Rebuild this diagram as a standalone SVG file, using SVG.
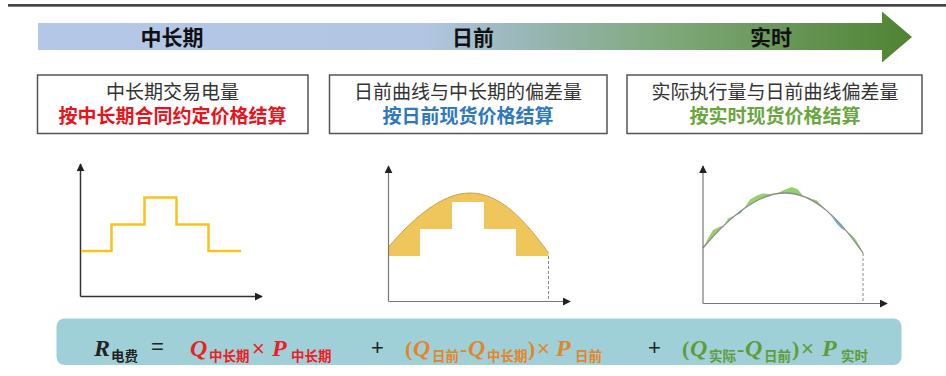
<svg xmlns="http://www.w3.org/2000/svg" width="946" height="376" viewBox="0 0 946 376">
<defs>
<linearGradient id="arrowGrad" x1="38" y1="0" x2="913" y2="0" gradientUnits="userSpaceOnUse">
<stop offset="0" stop-color="#b4c7e7"/>
<stop offset="0.44" stop-color="#b2c6e3"/>
<stop offset="0.55" stop-color="#9ab7b9"/>
<stop offset="0.72" stop-color="#7fa87a"/>
<stop offset="1" stop-color="#4f8332"/>
</linearGradient>
<marker id="ax" viewBox="0 0 10 10" refX="9" refY="5" markerWidth="8" markerHeight="8" markerUnits="userSpaceOnUse" orient="auto">
<path d="M0,0 L10,5 L0,10 Z" fill="#222"/>
</marker>
<clipPath id="above"><path d="M703,248 C725,222 755,193 785,193 C815,193 840,220 863,253 L863,150 L703,150 Z"/></clipPath>
<clipPath id="below"><path d="M703,248 C725,222 755,193 785,193 C815,193 840,220 863,253 L863,320 L703,320 Z"/></clipPath>
<style>
.cjk{font-family:"Noto Sans CJK SC","Noto Sans",sans-serif}
.stage{font-size:21px;font-weight:bold;fill:#111;text-anchor:middle}
.box{fill:#fff;stroke:#555;stroke-width:1.5}
.l1{font-size:19px;fill:#333;text-anchor:middle}
.l2{font-size:19px;font-weight:bold;text-anchor:middle}
.axis{stroke:#333;stroke-width:1.5;fill:none}
.axis2{stroke:#777;stroke-width:1.2;fill:none}
.dash{stroke:#888;stroke-width:1;stroke-dasharray:3,2;fill:none}
.var{font-family:"Liberation Serif","Times New Roman",serif;font-style:italic;font-weight:bold;font-size:24px}
.sub{font-family:"Noto Sans CJK SC","Noto Sans",sans-serif;font-weight:bold;font-size:13.5px}
.op{font-family:"Liberation Sans",Arial,sans-serif;font-size:22px}
.par{font-family:"Liberation Serif","Times New Roman",serif;font-weight:bold;font-size:22px}
</style>
</defs>
<rect x="8" y="4" width="938" height="2.7" fill="#444"/>

<g id="timeline">
<polygon points="38,23 882,23 882,11.5 912,37 882,62.5 882,50 38,50" fill="url(#arrowGrad)"/>
<text class="cjk stage" x="172" y="44.5">中长期</text>
<text class="cjk stage" x="473" y="44.5">日前</text>
<text class="cjk stage" x="771" y="44.5">实时</text>
</g>

<g id="box-mid-long">
<rect class="box" x="37.5" y="75" width="270.5" height="58.5"/>
<text class="cjk l1" x="172.5" y="98.5">中长期交易电量</text>
<text class="cjk l2" x="172.5" y="123" fill="#e8141b">按中长期合同约定价格结算</text>
</g>
<g id="box-day-ahead">
<rect class="box" x="329.5" y="75" width="277.5" height="58.5"/>
<text class="cjk l1" x="468" y="98.5">日前曲线与中长期的偏差量</text>
<text class="cjk l2" x="468" y="123" fill="#2e78c0">按日前现货价格结算</text>
</g>
<g id="box-realtime">
<rect class="box" x="627" y="75" width="295" height="58.5"/>
<text class="cjk l1" x="775" y="98.5">实际执行量与日前曲线偏差量</text>
<text class="cjk l2" x="775" y="123" fill="#6aa63e">按实时现货价格结算</text>
</g>

<g id="chart-mid-long">
<path class="axis" d="M80.5,296.5 L80.5,164" marker-end="url(#ax)"/>
<path class="axis" d="M80.5,296.5 L262,296.5" marker-end="url(#ax)"/>
<path d="M81,251 L111.5,251 L111.5,224.5 L144.5,224.5 L144.5,197.5 L176.5,197.5 L176.5,224.5 L208.5,224.5 L208.5,251 L241,251" fill="none" stroke="#f7c519" stroke-width="2.5"/>
</g>

<g id="chart-day-ahead">
<path d="M388.5,247 C410,222 440,193 470,193 C500,193 525,220 548.5,253 L548.5,256 L516,256 L516,229 L484,229 L484,202 L452,202 L452,229 L420,229 L420,256 L388.5,256 Z" fill="#efc65c"/>
<path d="M388.5,247 C410,222 440,193 470,193 C500,193 525,220 548.5,253" fill="none" stroke="#c9a247" stroke-width="1"/>
<path class="dash" d="M548.5,256 L548.5,301.5"/>
<path class="axis2" d="M388.5,301.5 L388.5,166" marker-end="url(#ax)"/>
<path class="axis2" d="M388.5,301.5 L570,301.5" marker-end="url(#ax)"/>
</g>

<g id="chart-realtime">
<g clip-path="url(#above)">
<path d="M703,248 L708,238.5 L713,230 L720,226.5 L724,225.5 L728,218.5 L732,216.5 L737,215 L741,213 L745,207 L750,199.5 L757,195.5 L763,193.5 L770,194 L778,193 L785,189.5 L792,187 L798,189.5 L803,196 L807,197 L812,199 L817,200.5 L822,206 L827,211 L832,217 L837,224 L842,229 L846,231 L850,233.5 L855,238.5 L860,246.5 L863,253 C840,220 815,193 785,193 C755,193 725,222 703,248 Z" fill="#94d06c"/>
</g>
<g clip-path="url(#below)">
<path d="M703,248 L708,238.5 L713,230 L720,226.5 L724,225.5 L728,218.5 L732,216.5 L737,215 L741,213 L745,207 L750,199.5 L757,195.5 L763,193.5 L770,194 L778,193 L785,189.5 L792,187 L798,189.5 L803,196 L807,197 L812,199 L817,200.5 L822,206 L827,211 L832,217 L837,224 L842,229 L846,231 L850,233.5 L855,238.5 L860,246.5 L863,253 C840,220 815,193 785,193 C755,193 725,222 703,248 Z" fill="#6fb3d0"/>
</g>
<path d="M703,248 C725,222 755,193 785,193 C815,193 840,220 863,253" fill="none" stroke="#8a8a8a" stroke-width="1.3"/>
<path class="dash" d="M863,253 L863,303.5"/>
<path class="axis2" d="M703,303.5 L703,166" marker-end="url(#ax)"/>
<path class="axis2" d="M703,303.5 L887,303.5" marker-end="url(#ax)"/>
</g>

<g id="formula">
<rect x="56.5" y="318.5" width="845" height="46.5" rx="8" fill="#9fd0d7"/>
<text class="var" x="94" y="356" fill="#222">R</text>
<text class="sub" x="111" y="361" fill="#222">电费</text>
<text class="op" x="151" y="354" fill="#222">=</text>
<g fill="#ee1c25">
<text class="var" x="190" y="356">Q</text>
<text class="sub" x="209" y="361">中长期</text>
<text class="op" x="252" y="356">×</text>
<text class="var" x="272" y="356">P</text>
<text class="sub" x="291" y="361">中长期</text>
</g>
<text class="op" x="371" y="355" fill="#222">+</text>
<g fill="#e3852a">
<text class="par" x="405" y="356">(</text>
<text class="var" x="413" y="356">Q</text>
<text class="sub" x="432" y="361">日前</text>
<text class="par" x="460" y="356">-</text>
<text class="var" x="468" y="356">Q</text>
<text class="sub" x="487" y="361">中长期</text>
<text class="par" x="528" y="356">)</text>
<text class="op" x="537" y="356">×</text>
<text class="var" x="556" y="356">P</text>
<text class="sub" x="575" y="361">日前</text>
</g>
<text class="op" x="648" y="355" fill="#222">+</text>
<g fill="#5e9c3a">
<text class="par" x="682" y="356">(</text>
<text class="var" x="690" y="356">Q</text>
<text class="sub" x="709" y="361">实际</text>
<text class="par" x="737" y="356">-</text>
<text class="var" x="745" y="356">Q</text>
<text class="sub" x="764" y="361">日前</text>
<text class="par" x="792" y="356">)</text>
<text class="op" x="801" y="356">×</text>
<text class="var" x="822" y="356">P</text>
<text class="sub" x="841" y="361">实时</text>
</g>
</g>
</svg>
